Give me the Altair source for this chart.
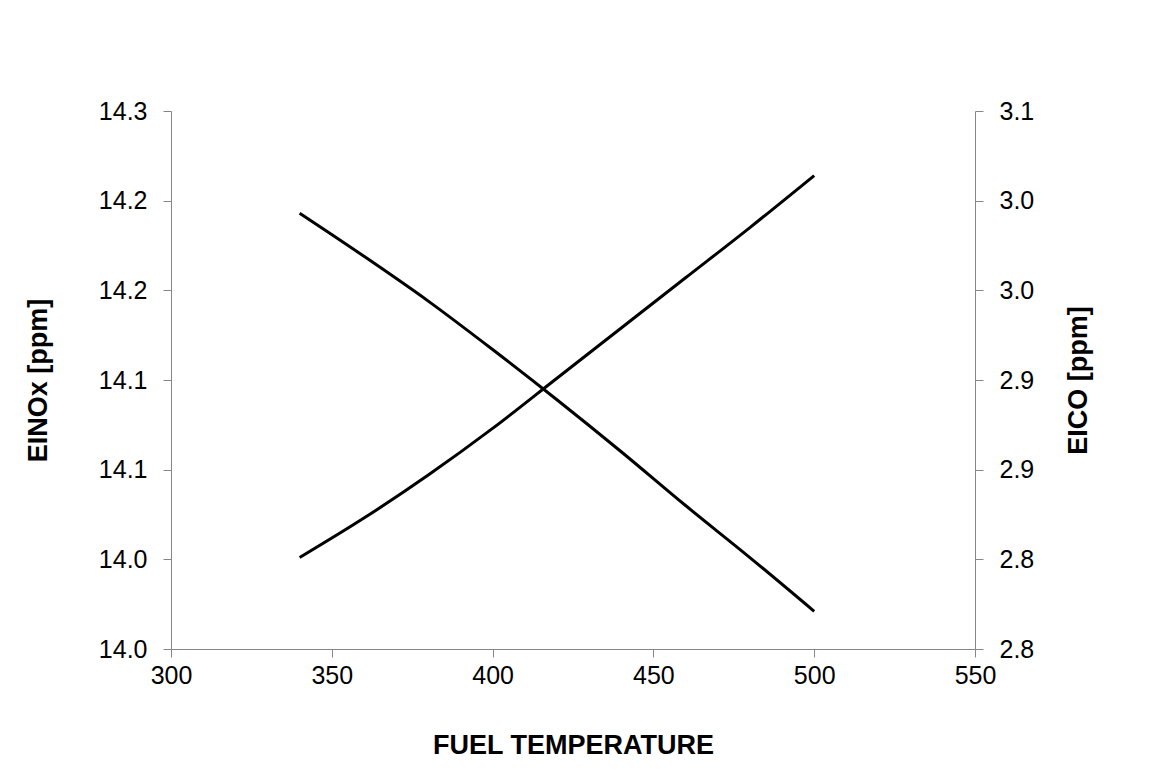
import altair as alt
import pandas as pd

# Fuel temperature sweep and the two emission indices
temperature = [340, 360, 380, 400, 420, 440, 460, 480, 500]
einox = [14.051, 14.073, 14.097, 14.123, 14.151, 14.179, 14.207, 14.235, 14.264]
eico = [3.043, 3.019, 2.994, 2.967, 2.939, 2.910, 2.880, 2.851, 2.821]

# Axis ticks and the labels printed at them (one decimal place)
x_ticks = [300, 350, 400, 450, 500, 550]
nox_ticks = [14.0, 14.05, 14.1, 14.15, 14.2, 14.25, 14.3]
nox_labels = ["14.0", "14.0", "14.1", "14.1", "14.2", "14.2", "14.3"]
co_ticks = [2.8, 2.85, 2.9, 2.95, 3.0, 3.05, 3.1]
co_labels = ["2.8", "2.8", "2.9", "2.9", "3.0", "3.0", "3.1"]

df = pd.DataFrame({"T": temperature, "NOx": einox, "CO": eico})

FONT = "Liberation Sans"
AXIS_GREY = "#868686"


def label_expr(labels, start, step):
    arr = "[" + ",".join(f"'{s}'" for s in labels) + "]"
    return f"{arr}[round((datum.value - {start}) / {step})]"


common_axis = dict(
    domainColor=AXIS_GREY,
    tickColor=AXIS_GREY,
    tickSize=8,
    grid=False,
    labelFont=FONT,
    labelFontSize=25,
    labelColor="#000000",
    labelFlush=False,
    titleFont=FONT,
    titleFontSize=27,
    titleFontWeight="bold",
    titleColor="#000000",
)

x_enc = alt.X(
    "T:Q",
    scale=alt.Scale(domain=[300, 550], nice=False),
    axis=alt.Axis(
        title="FUEL TEMPERATURE",
        values=x_ticks,
        format="d",
        labelPadding=6,
        titleX=402,
        titleY=96,
        titleBaseline="middle",
        **common_axis,
    ),
)

nox_line = (
    alt.Chart(df)
    .mark_line(color="#000000", strokeWidth=3, interpolate="monotone")
    .encode(
        x=x_enc,
        y=alt.Y(
            "NOx:Q",
            scale=alt.Scale(domain=[14.0, 14.3], nice=False, zero=False),
            axis=alt.Axis(
                title="EINOx [ppm]",
                orient="left",
                values=nox_ticks,
                labelExpr=label_expr(nox_labels, 14.0, 0.05),
                labelPadding=16,
                titleAngle=270,
                titleX=-133,
                titleY=269,
                titleBaseline="middle",
                **common_axis,
            ),
        ),
    )
)

co_line = (
    alt.Chart(df)
    .mark_line(color="#000000", strokeWidth=3, interpolate="monotone")
    .encode(
        x=x_enc,
        y=alt.Y(
            "CO:Q",
            scale=alt.Scale(domain=[2.8, 3.1], nice=False, zero=False),
            axis=alt.Axis(
                title="EICO [ppm]",
                orient="right",
                values=co_ticks,
                labelExpr=label_expr(co_labels, 2.8, 0.05),
                labelPadding=16,
                titleAngle=270,
                titleX=103,
                titleY=269,
                titleBaseline="middle",
                **common_axis,
            ),
        ),
    )
)

chart = (
    alt.layer(nox_line, co_line)
    .resolve_scale(y="independent")
    .properties(
        width=804,
        height=538,
        autosize=alt.AutoSizeParams(type="none"),
        padding={"left": 171, "top": 111, "right": 178, "bottom": 129},
        background="#ffffff",
    )
    .configure_view(stroke=None)
)

chart.save("out.html", embed_options={"renderer": "svg", "actions": False})
